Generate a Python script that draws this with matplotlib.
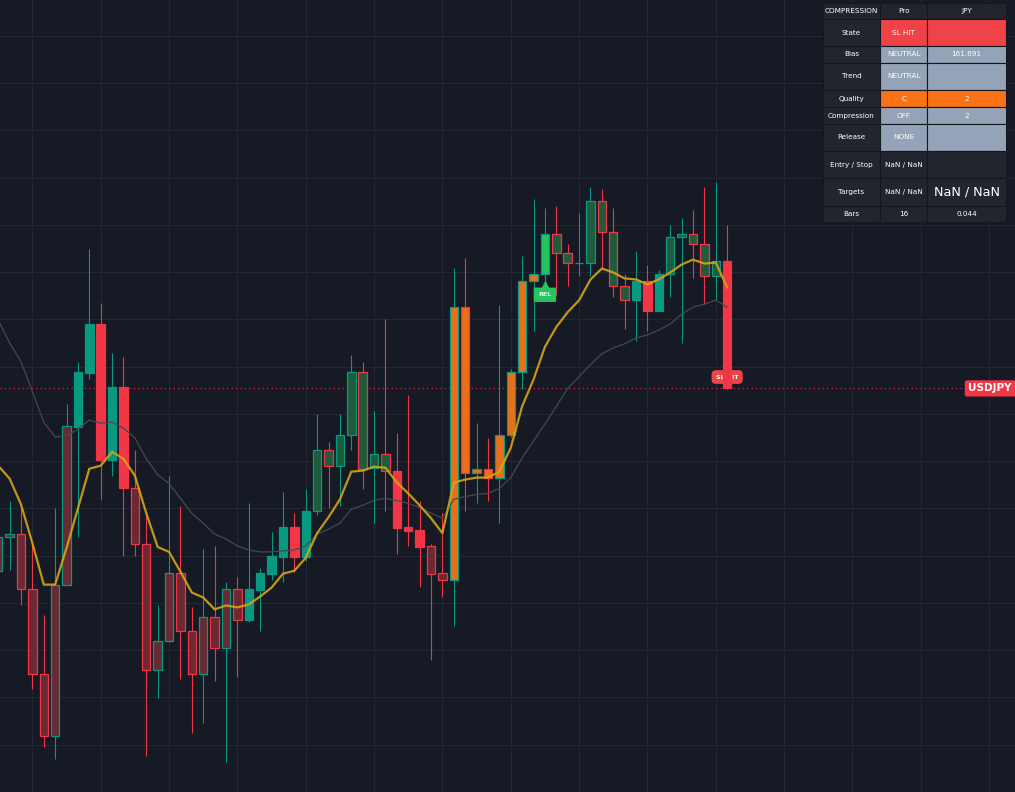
import numpy as np
import matplotlib.pyplot as plt
from matplotlib.patches import Rectangle
from matplotlib.transforms import blended_transform_factory

# --- candle data (USDJPY), one value per bar ---
opens = [161.424, 161.458, 161.461, 161.406, 161.320, 161.257, 161.410, 161.569, 161.624, 161.673,
         161.536, 161.609, 161.508, 161.451, 161.324, 161.353, 161.422, 161.363, 161.320, 161.377,
         161.346, 161.406, 161.374, 161.405, 161.421, 161.438, 161.468, 161.438, 161.484, 161.546,
         161.530, 161.561, 161.625, 161.528, 161.542, 161.525, 161.468, 161.465, 161.449, 161.422,
         161.415, 161.690, 161.523, 161.527, 161.518, 161.561, 161.625, 161.716, 161.723, 161.764,
         161.745, 161.735, 161.735, 161.797, 161.766, 161.711, 161.697, 161.716, 161.686, 161.723,
         161.761, 161.764, 161.754, 161.721, 161.737]
highs = [161.458, 161.494, 161.488, 161.452, 161.379, 161.487, 161.592, 161.635, 161.749, 161.694,
         161.644, 161.640, 161.546, 161.482, 161.389, 161.520, 161.489, 161.387, 161.446, 161.449,
         161.413, 161.418, 161.492, 161.427, 161.463, 161.503, 161.482, 161.506, 161.582, 161.554,
         161.582, 161.642, 161.635, 161.585, 161.678, 161.563, 161.601, 161.494, 161.451, 161.482,
         161.730, 161.740, 161.573, 161.558, 161.692, 161.628, 161.742, 161.799, 161.790, 161.792,
         161.754, 161.785, 161.811, 161.809, 161.790, 161.723, 161.747, 161.733, 161.728, 161.773,
         161.780, 161.788, 161.811, 161.816, 161.773]
lows = [161.420, 161.425, 161.389, 161.305, 161.246, 161.234, 161.410, 161.458, 161.618, 161.496,
        161.520, 161.439, 161.439, 161.237, 161.296, 161.352, 161.315, 161.260, 161.270, 161.313,
        161.231, 161.317, 161.372, 161.363, 161.415, 161.413, 161.423, 161.434, 161.480, 161.487,
        161.489, 161.546, 161.506, 161.472, 161.484, 161.441, 161.449, 161.408, 161.334, 161.397,
        161.368, 161.484, 161.492, 161.494, 161.472, 161.559, 161.607, 161.666, 161.710, 161.702,
        161.711, 161.721, 161.721, 161.730, 161.700, 161.668, 161.656, 161.666, 161.686, 161.700,
        161.654, 161.719, 161.693, 161.697, 161.607]
closes = [161.458, 161.461, 161.406, 161.320, 161.257, 161.410, 161.570, 161.625, 161.673, 161.536,
          161.609, 161.507, 161.451, 161.324, 161.353, 161.422, 161.363, 161.320, 161.377, 161.346,
          161.406, 161.374, 161.406, 161.422, 161.439, 161.468, 161.438, 161.484, 161.546, 161.530,
          161.561, 161.625, 161.527, 161.542, 161.525, 161.467, 161.464, 161.448, 161.421, 161.415,
          161.690, 161.523, 161.527, 161.518, 161.561, 161.625, 161.716, 161.723, 161.764, 161.745,
          161.735, 161.735, 161.797, 161.766, 161.711, 161.697, 161.716, 161.686, 161.723, 161.761,
          161.764, 161.754, 161.721, 161.737, 161.608]
# body state per bar: s = plain, m = weak (maroon), g = trend (dark green), o = compression, l = release
states = list("mmmmmmm" "sssss" "mmmmmmmmmm" "ssssss" "ggggggg" "sssmm"
              "oooooooo" "lggsgggg" "sssggggg" "s")

ma_fast = [161.530, 161.517, 161.491, 161.452, 161.410, 161.410, 161.447, 161.487, 161.527, 161.530,
           161.544, 161.537, 161.520, 161.482, 161.448, 161.443, 161.423, 161.402, 161.397, 161.385,
           161.389, 161.387, 161.390, 161.398, 161.407, 161.421, 161.424, 161.437, 161.462, 161.478,
           161.496, 161.524, 161.525, 161.529, 161.528, 161.513, 161.502, 161.490, 161.477, 161.462,
           161.513, 161.516, 161.518, 161.518, 161.524, 161.548, 161.590, 161.617, 161.650, 161.670,
           161.685, 161.697, 161.718, 161.729, 161.725, 161.719, 161.718, 161.713, 161.718, 161.725,
           161.733, 161.738, 161.734, 161.735, 161.710]
ma_slow = [161.677, 161.654, 161.635, 161.605, 161.574, 161.559, 161.560, 161.567, 161.576, 161.573,
           161.574, 161.568, 161.558, 161.537, 161.521, 161.512, 161.497, 161.482, 161.472, 161.461,
           161.456, 161.449, 161.445, 161.443, 161.443, 161.444, 161.445, 161.449, 161.461, 161.466,
           161.472, 161.486, 161.490, 161.495, 161.497, 161.495, 161.492, 161.488, 161.482, 161.477,
           161.496, 161.499, 161.501, 161.502, 161.507, 161.518, 161.538, 161.555, 161.572, 161.590,
           161.608, 161.620, 161.632, 161.643, 161.649, 161.653, 161.659, 161.662, 161.667, 161.673,
           161.683, 161.690, 161.693, 161.697, 161.690]

rel_bar = 48
sl_bar = 64

table_rows = [
    ["COMPRESSION", "Pro", "JPY"],
    ["State", "SL HIT", ""],
    ["Bias", "NEUTRAL", "161.691"],
    ["Trend", "NEUTRAL", ""],
    ["Quality", "C", "2"],
    ["Compression", "OFF", "2"],
    ["Release", "NONE", ""],
    ["Entry / Stop", "NaN / NaN", ""],
    ["Targets", "NaN / NaN", "NaN / NaN"],
    ["Bars", "16", "0.044"],
]

# --- colours ---
BG = '#161a25'
GRID = '#232734'
TEAL = '#089981'
RED = '#f23645'
FILLS = {'m': '#6b2a33', 'g': '#1f5c3c', 'o': '#e8701a', 'l': '#22c55e'}
DARK = '#23252e'
SLATE = '#94a3b8'
cell_colors = [
    [DARK, DARK, DARK],
    [DARK, '#ef4347', '#ef4347'],
    [DARK, SLATE, SLATE],
    [DARK, SLATE, SLATE],
    [DARK, '#f97316', '#f97316'],
    [DARK, SLATE, SLATE],
    [DARK, SLATE, SLATE],
    [DARK, DARK, DARK],
    [DARK, DARK, DARK],
    [DARK, DARK, DARK],
]

W, H = 1015, 792
fig = plt.figure(figsize=(W / 100, H / 100), dpi=100, facecolor=BG)
ax = fig.add_axes([0, 0, 1, 1])
ax.set_facecolor(BG)

n = len(opens)
x = np.arange(n)

ax.set_xlim(0.158, 89.27)
ax.set_ylim(161.208, 162.0)

# grid
ax.set_xticks(np.arange(3, 90, 6))
ax.set_yticks(161.9639 - 0.0477 * np.arange(17))
ax.grid(True, color=GRID, lw=0.8)
ax.tick_params(length=0, labelbottom=False, labelleft=False)
for s in ax.spines.values():
    s.set_visible(False)

# candles
for i in x:
    o, h, l, c = opens[i], highs[i], lows[i], closes[i]
    edge = TEAL if c >= o else RED
    fill = edge if states[i] == 's' else FILLS[states[i]]
    ax.vlines(i, l, h, color=edge, lw=0.8, zorder=3)
    ax.add_patch(Rectangle((i - 0.37, min(o, c)), 0.74, abs(c - o),
                           facecolor=fill, edgecolor=edge, lw=0.9, zorder=4))

# moving averages
ax.plot(x, ma_slow, color='#454853', lw=0.9, zorder=5)
ax.plot(x, ma_fast, color='#d4a514', lw=1.6, alpha=0.9, zorder=5)

# last price line
ax.axhline(closes[-1], color=RED, lw=0.8, ls=(0, (1, 3)), zorder=2)
btf = blended_transform_factory(ax.transAxes, ax.transData)
ax.text(1.0, closes[-1], 'USDJPY ', transform=btf, ha='right', va='center',
        fontsize=7.5, fontweight='bold', color='white', zorder=10,
        bbox=dict(boxstyle='round,pad=0.3,rounding_size=0.2', fc=RED, ec='none'))

# SL HIT label (under candle)
ax.text(sl_bar, closes[sl_bar] + 0.0115, 'SL HIT', ha='center', va='center',
        fontsize=4.5, fontweight='bold', color='white', zorder=3.5,
        bbox=dict(boxstyle='round,pad=0.7', fc='#ef4347', ec='none'))

# REL label
ax.plot(rel_bar, lows[rel_bar] + 0.003, marker='^', ms=6, color='#22c55e', mec='none', zorder=6)
ax.text(rel_bar, lows[rel_bar] - 0.0075, 'REL', ha='center', va='center',
        fontsize=4.5, fontweight='bold', color='#e8f5ec', zorder=6,
        bbox=dict(boxstyle='round,pad=0.75,rounding_size=0.2', fc='#22c55e', ec='none'))

# status table (top right)
col_edges = [822.7, 880.3, 927.3, 1005.7]
row_edges = [2.7, 19.3, 46, 62.7, 90, 107.3, 124, 150.7, 178.3, 205.7, 221.7]
for r, row in enumerate(table_rows):
    y0, y1 = row_edges[r], row_edges[r + 1]
    for c, txt in enumerate(row):
        x0, x1 = col_edges[c], col_edges[c + 1]
        fig.add_artist(Rectangle((x0 / W, 1 - y1 / H), (x1 - x0) / W, (y1 - y0) / H,
                                 transform=fig.transFigure, facecolor=cell_colors[r][c],
                                 edgecolor='#15171e', lw=0.8, zorder=20))
        size = 9.2 if (r == 8 and c == 2) else 5.2
        fig.text((x0 + x1) / 2 / W, 1 - (y0 + y1) / 2 / H, txt, ha='center', va='center',
                 fontsize=size, color='white', zorder=21)

fig.savefig('out.png', dpi=100, facecolor=BG)
